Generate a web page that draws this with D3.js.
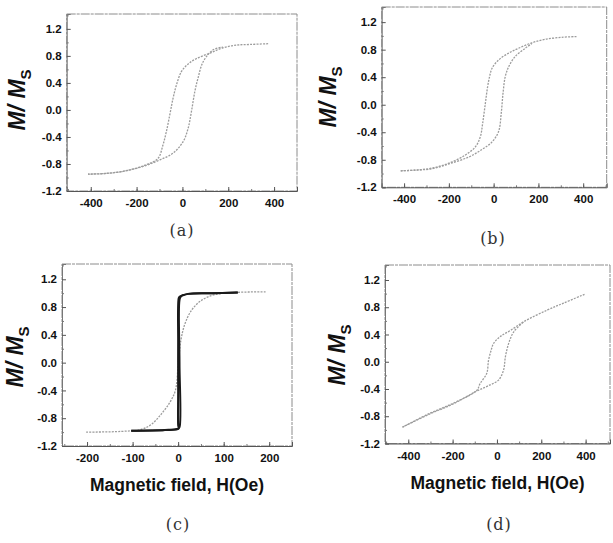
<!DOCTYPE html>
<html>
<head>
<meta charset="utf-8">
<script src="https://cdn.jsdelivr.net/npm/d3@7"></script>
<style>
  body { margin: 0; background: #fff; }
  svg { display: block; }
  .tick text { font-family: "Liberation Sans", Arial, sans-serif; font-weight: bold; font-size: 11.5px; fill: #111; }
</style>
</head>
<body>
<script>
// y ticks shared by all four panels
const yTicks = [-1.2, -0.8, -0.4, 0.0, 0.4, 0.8, 1.2];
const xTicksWide = [-400, -200, 0, 200, 400];
const xTicksNarrow = [-200, -100, 0, 100, 200];

// (a) hysteresis loop, [H (Oe), M/Ms]
const aDown = [[374, 0.98], [300, 0.97], [236, 0.96], [177, 0.92], [119, 0.84], [61, 0.76], [25, 0.68], [-4, 0.57],
  [-26, 0.37], [-41, 0.17], [-55, -0.07], [-70, -0.32], [-85, -0.52], [-107, -0.72], [-157, -0.81], [-245, -0.90],
  [-332, -0.94], [-412, -0.95]];
const aUp = [[-412, -0.95], [-332, -0.94], [-245, -0.90], [-157, -0.82], [-99, -0.74], [-41, -0.64], [3, -0.47],
  [25, -0.27], [39, -0.03], [54, 0.27], [68, 0.47], [90, 0.71], [134, 0.89], [177, 0.93]];

// (b)
const bDown = [[370, 0.99], [304, 0.98], [230, 0.95], [171, 0.90], [111, 0.82], [67, 0.75], [22, 0.65], [-7, 0.53],
  [-18, 0.41], [-27, 0.26], [-37, 0.02], [-49, -0.27], [-59, -0.46], [-81, -0.61], [-126, -0.73], [-200, -0.85],
  [-274, -0.92], [-348, -0.95], [-415, -0.96]];
const bUp = [[-415, -0.96], [-348, -0.95], [-274, -0.93], [-200, -0.86], [-111, -0.76], [-52, -0.65], [-7, -0.54],
  [22, -0.39], [34, -0.12], [42, 0.17], [52, 0.41], [67, 0.55], [96, 0.70], [141, 0.82], [171, 0.89]];

// (c) gray sigmoid and black square loop
const cGray = [[-202, -1.0], [-125, -0.99], [-81, -0.96], [-59, -0.89], [-37, -0.74], [-18, -0.57], [-6, -0.40],
  [0, -0.05], [6, 0.32], [15, 0.56], [30, 0.76], [52, 0.90], [81, 0.98], [125, 1.01], [192, 1.02]];
const cSquareUp = [[-103, -0.98], [-29, -0.97], [0, -0.95], [3, -0.93], [3, 0.0], [3, 0.90], [6, 0.95], [22, 0.99],
  [74, 1.0], [131, 1.01]];
const cSquareDown = [[131, 1.01], [74, 1.0], [22, 0.99], [3, 0.95], [1, 0.92], [0, 0.3], [0, -0.4], [0, -0.9],
  [1, -0.95], [-29, -0.97], [-103, -0.98]];

// (d)
const dDown = [[395, 0.99], [300, 0.86], [228, 0.76], [122, 0.59], [61, 0.46], [15, 0.37], [-15, 0.27], [-26, 0.17],
  [-38, 0.02], [-46, -0.17], [-76, -0.32], [-91, -0.42], [-198, -0.61], [-305, -0.76], [-426, -0.96]];
const dUp = [[-426, -0.96], [-305, -0.77], [-198, -0.62], [-91, -0.43], [-31, -0.34], [7, -0.27], [30, -0.12],
  [38, 0.07], [53, 0.27], [76, 0.44], [122, 0.59]];

const svg = d3.select("body").append("svg")
  .attr("width", 613)
  .attr("height", 543);

const hyphen = f => d => f(d).replace("\u2212", "-");

const panels = [
  { box: [66.7, 297, 14, 191], xDom: [-505, 500], xTicks: xTicksWide, xMinor: 100,
    curves: [[aDown, "gray"], [aUp, "gray"]], cap: "(a)", capX: 182, capY: 236, labX: 25, labY: 100, xLabel: false },
  { box: [381.7, 606.7, 7, 187.3], xDom: [-500, 505], xTicks: xTicksWide, xMinor: 100,
    curves: [[bDown, "gray"], [bUp, "gray"]], cap: "(b)", capX: 493, capY: 244, labX: 336, labY: 97, xLabel: false },
  { box: [62, 292, 264, 446], xDom: [-255, 250], xTicks: xTicksNarrow, xMinor: 50,
    curves: [[cGray, "gray"], [cSquareUp, "black"], [cSquareDown, "black"]], cap: "(c)", capX: 178, capY: 530,
    labX: 23, labY: 357, xLabel: true },
  { box: [385, 610, 265, 443.5], xDom: [-505, 510], xTicks: xTicksWide, xMinor: 100,
    curves: [[dDown, "gray"], [dUp, "gray"]], cap: "(d)", capX: 499, capY: 530, labX: 345, labY: 355, xLabel: true }
];

panels.forEach(p => {
  const [x0, x1, y0, y1] = p.box;
  const x = d3.scaleLinear().domain(p.xDom).range([x0, x1]);
  const y = d3.scaleLinear().domain([-1.2, 1.42]).range([y1, y0]);
  const g = svg.append("g");

  // frame
  g.append("rect")
    .attr("x", x0).attr("y", y0)
    .attr("width", x1 - x0).attr("height", y1 - y0)
    .attr("fill", "none")
    .attr("stroke", "#8c8c8c")
    .attr("stroke-width", 1)
    .attr("stroke-dasharray", "9,1,3,1");

  // axes
  const xAxis = d3.axisBottom(x).tickValues(p.xTicks).tickSize(-4).tickPadding(8).tickFormat(hyphen(d3.format("d")));
  const yAxis = d3.axisLeft(y).tickValues(yTicks).tickSize(-4).tickPadding(5).tickFormat(hyphen(d3.format(".1f")));

  const xMinorTicks = d3.range(p.xTicks[0] - p.xMinor, p.xTicks[p.xTicks.length - 1] + p.xMinor + 1, p.xMinor)
    .filter(v => v >= p.xDom[0] && v <= p.xDom[1]);
  g.append("g").attr("transform", `translate(0,${y1})`)
    .call(d3.axisBottom(x).tickValues(xMinorTicks).tickSize(-2).tickFormat(""))
    .call(s => s.select(".domain").remove())
    .selectAll("line").attr("stroke", "#777");
  g.append("g").attr("transform", `translate(${x0},0)`)
    .call(d3.axisLeft(y).tickValues(d3.range(-1.0, 1.41, 0.4)).tickSize(-2).tickFormat(""))
    .call(s => s.select(".domain").remove())
    .selectAll("line").attr("stroke", "#777");

  g.append("g").attr("transform", `translate(0,${y1})`).call(xAxis)
    .call(s => s.select(".domain").attr("stroke", "#555"))
    .selectAll("line").attr("stroke", "#555");
  g.append("g").attr("transform", `translate(${x0},0)`).call(yAxis)
    .call(s => s.select(".domain").attr("stroke", "#777"))
    .selectAll("line").attr("stroke", "#555");

  // curves
  const line = d3.line()
    .x(d => x(d[0]))
    .y(d => y(d[1]))
    .curve(d3.curveCatmullRom.alpha(0.5));

  p.curves.forEach(([data, kind]) => {
    g.append("path")
      .attr("d", line(data))
      .attr("fill", "none")
      .attr("stroke", kind === "black" ? "#1a1a1a" : "#9c9c9c")
      .attr("stroke-width", kind === "black" ? 2 : 1.3)
      .attr("stroke-dasharray", kind === "black" ? null : "2,1.2");
  });

  // y label
  const yl = g.append("text")
    .attr("transform", `translate(${p.labX},${p.labY}) rotate(-90)`)
    .attr("text-anchor", "middle")
    .attr("font-family", "Liberation Sans, Arial, sans-serif")
    .attr("font-weight", "bold")
    .attr("font-size", 23)
    .attr("fill", "#111");
  yl.append("tspan").attr("font-style", "italic").text("M/ M");
  yl.append("tspan").attr("font-size", 15).attr("dy", 6).text("S");

  if (p.xLabel) {
    g.append("text")
      .attr("x", (x0 + x1) / 2 + 0)
      .attr("y", y1 + 45)
      .attr("text-anchor", "middle")
      .attr("font-family", "Liberation Sans, Arial, sans-serif")
      .attr("font-weight", "bold")
      .attr("font-size", 17.5)
      .attr("fill", "#111")
      .text("Magnetic field, H(Oe)");
  }

  g.append("text")
    .attr("x", p.capX)
    .attr("y", p.capY)
    .attr("text-anchor", "middle")
    .attr("font-family", "DejaVu Serif, serif")
    .attr("font-weight", "300")
    .attr("font-size", 16)
    .attr("fill", "#333")
    .attr("letter-spacing", 1)
    .text(p.cap);
});
</script>
</body>
</html>
